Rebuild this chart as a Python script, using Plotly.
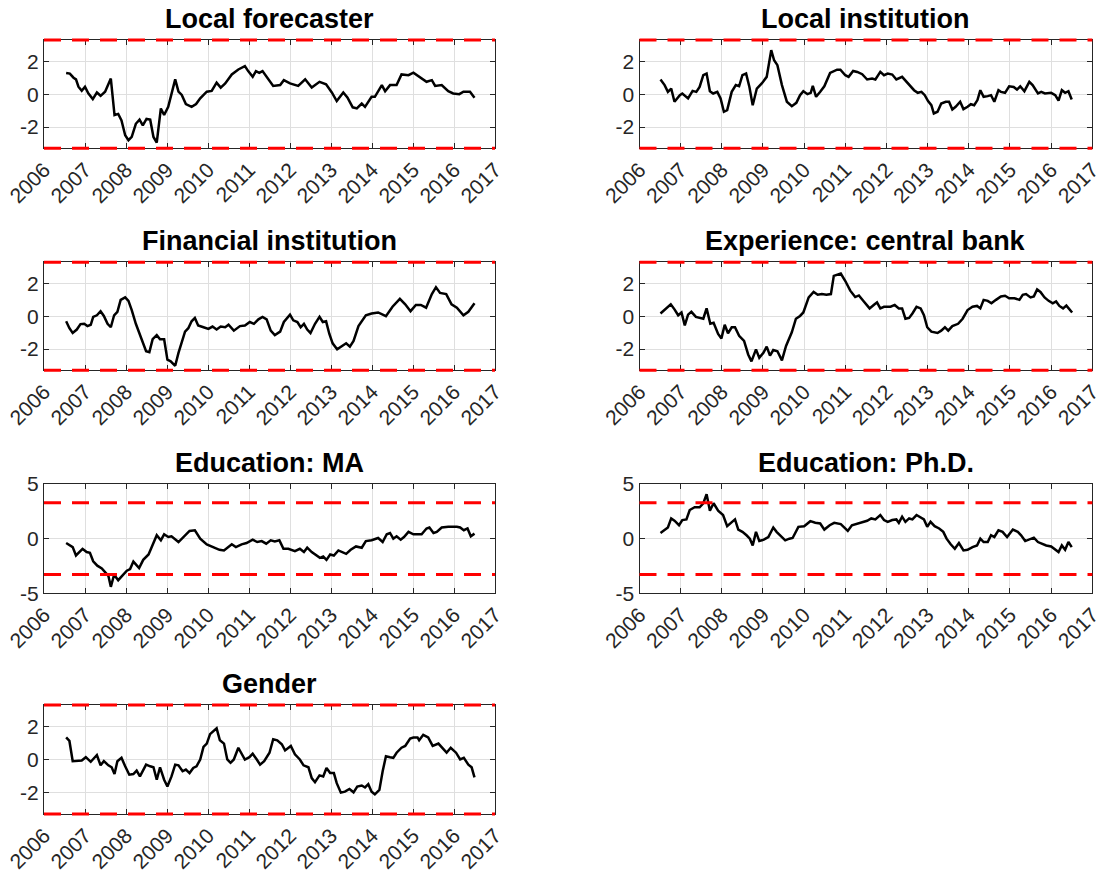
import plotly.graph_objects as go

# ---------------- data ----------------
BASE_YEAR = 2006
titles = ["Local forecaster", "Local institution", "Financial institution",
          "Experience: central bank", "Education: MA", "Education: Ph.D.", "Gender"]
year_ticks = list(range(2006, 2018))
year_labels = [str(y) for y in year_ticks]
critical_value = 3.29

# time in years since Jan 2006
lf_t = [0.54, 0.63, 0.72, 0.78, 0.84, 0.92, 1.00, 1.08, 1.19, 1.29,
        1.38, 1.49, 1.63, 1.72, 1.81, 1.89, 1.98, 2.06, 2.14, 2.24,
        2.33, 2.41, 2.50, 2.59, 2.67, 2.75, 2.85, 2.93, 3.03, 3.20,
        3.28, 3.36, 3.46, 3.60, 3.71, 3.81, 3.97, 4.09, 4.21, 4.31,
        4.42, 4.58, 4.74, 4.90, 4.98, 5.09, 5.17, 5.25, 5.33, 5.43,
        5.59, 5.76, 5.85, 6.00, 6.20, 6.37, 6.53, 6.72, 6.88, 7.02,
        7.14, 7.30, 7.40, 7.53, 7.63, 7.75, 7.83, 7.99, 8.07, 8.24,
        8.32, 8.44, 8.60, 8.72, 8.89, 9.01, 9.17, 9.33, 9.46, 9.54,
        9.70, 9.86, 9.98, 10.13, 10.23, 10.39, 10.50]
lf_v = [1.29, 1.25, 1.0, 0.9, 0.45, 0.2, 0.45, 0.05, -0.3, 0.1,
        -0.1, 0.15, 0.95, -1.27, -1.2, -1.6, -2.5, -2.8, -2.6, -1.8,
        -1.55, -1.9, -1.5, -1.55, -2.6, -2.95, -0.87, -1.27, -0.77, 0.9,
        0.15, -0.05, -0.6, -0.77, -0.6, -0.25, 0.15, 0.2, 0.7, 0.4,
        0.65, 1.2, 1.5, 1.7, 1.4, 1.05, 1.4, 1.3, 1.4, 1.05,
        0.5, 0.55, 0.85, 0.65, 0.5, 0.9, 0.4, 0.75, 0.6, 0.1,
        -0.42, 0.1, -0.2, -0.8, -0.87, -0.57, -0.77, -0.16, -0.16, 0.55,
        0.18, 0.55, 0.55, 1.2, 1.15, 1.3, 1.0, 0.75, 0.85, 0.5,
        0.55, 0.18, 0.04, 0.0, 0.15, 0.15, -0.22]

li_t = [0.51, 0.61, 0.69, 0.77, 0.85, 0.98, 1.04, 1.18, 1.29, 1.38,
        1.46, 1.55, 1.63, 1.71, 1.79, 1.89, 1.97, 2.05, 2.13, 2.24,
        2.34, 2.42, 2.50, 2.59, 2.67, 2.75, 2.85, 2.97, 3.09, 3.20,
        3.27, 3.35, 3.46, 3.58, 3.70, 3.81, 3.90, 3.98, 4.08, 4.16,
        4.21, 4.29, 4.39, 4.49, 4.63, 4.80, 4.88, 5.00, 5.08, 5.19,
        5.29, 5.41, 5.53, 5.65, 5.73, 5.85, 5.94, 6.03, 6.14, 6.24,
        6.38, 6.49, 6.59, 6.67, 6.76, 6.85, 6.93, 7.01, 7.09, 7.15,
        7.24, 7.33, 7.44, 7.52, 7.60, 7.68, 7.79, 7.87, 7.97, 8.05,
        8.13, 8.21, 8.28, 8.36, 8.46, 8.54, 8.62, 8.72, 8.78, 8.88,
        8.98, 9.09, 9.17, 9.25, 9.35, 9.47, 9.55, 9.68, 9.76, 9.85,
        10.00, 10.10, 10.18, 10.26, 10.34, 10.42, 10.50]
li_v = [0.89, 0.55, 0.14, 0.34, -0.46, -0.06, 0.04, -0.26, 0.2, 0.14,
        0.44, 1.15, 1.25, 0.18, 0.04, 0.14, -0.26, -1.07, -0.97, 0.14,
        0.55, 0.48, 1.15, 1.25, 0.44, -0.67, 0.34, 0.65, 1.05, 2.67,
        2.06, 1.76, 0.55, -0.46, -0.73, -0.53, -0.06, 0.18, 0.0, 0.08,
        0.5, -0.16, 0.14, 0.48, 1.29, 1.49, 1.49, 1.15, 1.05, 1.41,
        1.35, 1.21, 0.89, 0.95, 0.89, 1.35, 1.15, 1.25, 1.19, 0.89,
        1.05, 0.75, 0.44, 0.24, 0.08, 0.14, -0.06, -0.42, -0.67, -1.17,
        -1.07, -0.57, -0.46, -0.46, -0.93, -0.77, -0.46, -0.91, -0.77, -0.61,
        -0.67, -0.36, 0.24, -0.16, -0.12, -0.06, -0.46, 0.24, 0.14, 0.08,
        0.48, 0.44, 0.28, 0.48, 0.18, 0.75, 0.55, 0.04, 0.14, 0.04,
        0.08, -0.06, -0.40, 0.24, 0.08, 0.18, -0.32]

fi_t = [0.54, 0.62, 0.70, 0.80, 0.89, 0.98, 1.06, 1.14, 1.20, 1.29,
        1.38, 1.46, 1.55, 1.63, 1.71, 1.79, 1.87, 1.98, 2.06, 2.14,
        2.24, 2.38, 2.49, 2.57, 2.65, 2.75, 2.83, 2.93, 3.01, 3.09,
        3.20, 3.28, 3.36, 3.44, 3.52, 3.60, 3.68, 3.76, 3.89, 4.01,
        4.11, 4.21, 4.31, 4.42, 4.50, 4.63, 4.78, 4.90, 5.02, 5.12,
        5.23, 5.33, 5.43, 5.53, 5.63, 5.76, 5.85, 6.00, 6.08, 6.18,
        6.26, 6.34, 6.42, 6.50, 6.61, 6.72, 6.80, 6.88, 6.96, 7.04,
        7.15, 7.26, 7.37, 7.46, 7.55, 7.67, 7.85, 7.99, 8.15, 8.34,
        8.50, 8.68, 8.81, 8.94, 9.07, 9.19, 9.32, 9.46, 9.56, 9.66,
        9.81, 9.94, 10.07, 10.23, 10.35, 10.50]
fi_v = [-0.31, -0.73, -1.02, -0.81, -0.48, -0.46, -0.6, -0.52, -0.04, 0.06,
        0.31, 0.02, -0.46, -0.67, 0.06, 0.27, 1.0, 1.15, 0.94, 0.38,
        -0.46, -1.35, -2.13, -2.19, -1.40, -1.15, -1.40, -1.40, -2.65, -2.75,
        -3.02, -2.23, -1.65, -0.94, -0.73, -0.31, -0.10, -0.56, -0.67, -0.77,
        -0.63, -0.81, -0.63, -0.67, -0.52, -0.88, -0.6, -0.56, -0.35, -0.46,
        -0.19, -0.04, -0.19, -0.88, -1.15, -0.94, -0.35, 0.10, -0.25, -0.35,
        -0.67, -0.46, -0.81, -1.02, -0.46, -0.04, -0.35, -0.31, -1.08, -1.65,
        -2.02, -1.85, -1.65, -1.85, -1.5, -0.6, 0.06, 0.17, 0.23, 0.0,
        0.58, 1.06, 0.73, 0.31, 0.69, 0.69, 0.52, 1.35, 1.77, 1.42,
        1.35, 0.73, 0.52, 0.06, 0.27, 0.79]

ecb_t = [0.51, 0.65, 0.76, 0.85, 0.94, 1.02, 1.10, 1.18, 1.26, 1.37,
         1.46, 1.55, 1.63, 1.72, 1.80, 1.91, 1.99, 2.07, 2.15, 2.24,
         2.32, 2.42, 2.54, 2.64, 2.72, 2.83, 2.91, 3.01, 3.09, 3.17,
         3.25, 3.35, 3.46, 3.56, 3.70, 3.80, 3.90, 3.98, 4.11, 4.23,
         4.33, 4.43, 4.54, 4.65, 4.72, 4.81, 4.89, 5.00, 5.12, 5.24,
         5.33, 5.45, 5.59, 5.69, 5.77, 5.85, 5.94, 6.10, 6.20, 6.30,
         6.38, 6.46, 6.55, 6.63, 6.73, 6.83, 6.91, 6.99, 7.09, 7.24,
         7.33, 7.42, 7.50, 7.60, 7.74, 7.85, 7.97, 8.09, 8.20, 8.28,
         8.36, 8.46, 8.55, 8.66, 8.78, 8.88, 8.98, 9.11, 9.23, 9.31,
         9.39, 9.50, 9.58, 9.66, 9.74, 9.84, 9.94, 10.04, 10.12, 10.20,
         10.29, 10.37, 10.45, 10.51]
ecb_v = [0.17, 0.48, 0.73, 0.42, 0.06, 0.23, -0.56, 0.10, 0.27, -0.04,
         -0.10, -0.15, 0.48, -0.46, -0.40, -1.08, -1.35, -0.52, -1.04, -0.67,
         -0.67, -1.19, -1.5, -2.33, -2.75, -2.02, -2.54, -2.23, -1.85, -2.40,
         -2.06, -2.13, -2.69, -1.81, -0.98, -0.15, 0.02, 0.23, 1.15, 1.48,
         1.31, 1.35, 1.31, 1.35, 2.46, 2.52, 2.60, 2.15, 1.56, 1.17,
         1.27, 0.9, 0.48, 0.69, 0.85, 0.48, 0.58, 0.58, 0.69, 0.48,
         0.48, -0.15, -0.10, 0.17, 0.58, 0.48, 0.06, -0.67, -0.94, -1.02,
         -0.88, -0.67, -0.88, -0.60, -0.46, -0.15, 0.38, 0.58, 0.63, 0.48,
         1.0, 0.94, 0.79, 1.0, 1.21, 1.25, 1.10, 1.10, 1.0, 1.31,
         1.35, 1.15, 1.21, 1.63, 1.48, 1.15, 0.94, 0.79, 0.90, 0.63,
         0.48, 0.65, 0.38, 0.23]

ma_t = [0.54, 0.63, 0.70, 0.78, 0.86, 0.94, 1.04, 1.12, 1.20, 1.30,
        1.41, 1.49, 1.57, 1.63, 1.71, 1.81, 1.92, 2.02, 2.10, 2.18,
        2.32, 2.42, 2.55, 2.63, 2.75, 2.85, 2.93, 3.03, 3.11, 3.28,
        3.44, 3.55, 3.68, 3.81, 3.97, 4.13, 4.28, 4.39, 4.47, 4.58,
        4.68, 4.82, 4.94, 5.09, 5.20, 5.31, 5.42, 5.53, 5.63, 5.74,
        5.84, 5.96, 6.12, 6.24, 6.34, 6.42, 6.53, 6.65, 6.73, 6.81,
        6.89, 6.98, 7.07, 7.18, 7.29, 7.37, 7.48, 7.61, 7.75, 7.85,
        7.99, 8.15, 8.26, 8.36, 8.44, 8.52, 8.60, 8.70, 8.78, 8.89,
        9.01, 9.21, 9.33, 9.40, 9.50, 9.58, 9.70, 9.86, 10.07, 10.15,
        10.24, 10.33, 10.41, 10.50]
ma_v = [-0.40, -0.62, -0.77, -1.54, -1.23, -0.93, -1.23, -1.30, -2.07, -2.47,
        -2.72, -3.09, -3.40, -4.41, -3.30, -3.80, -3.30, -2.93, -2.78, -2.10,
        -2.69, -1.94, -1.45, -0.77, 0.31, -0.15, 0.40, 0.15, 0.22, -0.31,
        0.31, 0.71, 0.77, 0.0, -0.52, -0.77, -1.02, -1.08, -0.83, -0.52,
        -0.77, -0.52, -0.40, -0.09, -0.31, -0.22, -0.46, -0.15, -0.25, -0.15,
        -0.93, -0.93, -1.14, -0.93, -1.23, -0.83, -1.23, -1.54, -1.76, -1.64,
        -1.94, -1.45, -1.54, -1.08, -1.23, -1.39, -1.02, -0.71, -0.83, -0.22,
        -0.15, 0.06, -0.31, 0.40, 0.52, 0.0, 0.22, -0.09, 0.15, 0.62,
        0.40, 0.40, 0.93, 1.02, 0.52, 0.62, 1.02, 1.08, 1.08, 1.02,
        0.77, 0.93, 0.22, 0.46]

phd_t = [0.51, 0.61, 0.69, 0.77, 0.85, 0.96, 1.04, 1.14, 1.22, 1.34,
         1.46, 1.55, 1.63, 1.71, 1.80, 1.91, 2.03, 2.13, 2.24, 2.32,
         2.40, 2.50, 2.60, 2.68, 2.75, 2.83, 2.91, 3.02, 3.13, 3.25,
         3.33, 3.46, 3.54, 3.64, 3.72, 3.86, 4.00, 4.15, 4.27, 4.39,
         4.49, 4.62, 4.73, 4.89, 5.06, 5.16, 5.29, 5.41, 5.53, 5.63,
         5.73, 5.85, 5.94, 6.03, 6.14, 6.24, 6.30, 6.38, 6.46, 6.55,
         6.63, 6.73, 6.83, 6.91, 6.99, 7.07, 7.17, 7.28, 7.38, 7.46,
         7.56, 7.66, 7.76, 7.87, 7.97, 8.09, 8.20, 8.28, 8.36, 8.46,
         8.54, 8.62, 8.72, 8.82, 8.93, 9.07, 9.19, 9.27, 9.37, 9.47,
         9.58, 9.68, 9.77, 9.88, 10.00, 10.08, 10.18, 10.26, 10.34, 10.42,
         10.50]
phd_v = [0.52, 0.83, 1.02, 1.85, 1.64, 1.23, 1.70, 1.76, 2.62, 2.87,
         2.87, 3.24, 4.07, 2.56, 3.24, 2.56, 2.16, 1.14, 1.54, 1.76,
         0.83, 0.62, 0.31, 0.0, -0.62, 0.62, -0.22, -0.09, 0.15, 1.02,
         0.62, 0.15, -0.15, 0.0, 0.06, 1.08, 1.14, 1.60, 1.45, 1.39,
         0.83, 1.23, 1.45, 1.33, 0.71, 1.23, 1.39, 1.54, 1.64, 1.85,
         1.76, 2.16, 1.70, 1.54, 1.70, 1.76, 1.45, 2.01, 1.54, 1.85,
         1.76, 2.16, 1.94, 1.76, 1.08, 1.54, 1.14, 0.93, 0.62, 0.0,
         -0.52, -0.93, -0.40, -1.08, -1.02, -0.77, -0.62, 0.0, -0.31, -0.31,
         0.31, 0.15, 0.77, 0.62, 0.15, 0.83, 0.62, 0.31, -0.22, -0.09,
         0.09, -0.31, -0.46, -0.62, -0.71, -0.93, -1.23, -0.62, -1.02, -0.31,
         -0.77]

gen_t = [0.54, 0.62, 0.70, 0.84, 0.92, 1.02, 1.14, 1.29, 1.38, 1.46,
         1.57, 1.65, 1.72, 1.79, 1.89, 1.98, 2.08, 2.18, 2.26, 2.34,
         2.49, 2.59, 2.67, 2.75, 2.83, 2.93, 3.01, 3.11, 3.20, 3.28,
         3.38, 3.46, 3.55, 3.64, 3.72, 3.81, 3.89, 3.97, 4.05, 4.21,
         4.29, 4.39, 4.47, 4.55, 4.63, 4.74, 4.82, 4.90, 5.01, 5.09,
         5.19, 5.27, 5.37, 5.50, 5.59, 5.69, 5.80, 5.88, 6.02, 6.12,
         6.24, 6.33, 6.45, 6.53, 6.61, 6.72, 6.81, 6.89, 6.98, 7.07,
         7.14, 7.24, 7.34, 7.45, 7.55, 7.64, 7.75, 7.83, 7.91, 7.99,
         8.07, 8.18, 8.26, 8.34, 8.44, 8.52, 8.60, 8.72, 8.81, 8.93,
         9.01, 9.11, 9.15, 9.25, 9.37, 9.48, 9.62, 9.72, 9.82, 9.92,
         10.05, 10.15, 10.24, 10.35, 10.43, 10.50]
gen_v = [1.33, 1.12, -0.10, -0.10, -0.06, 0.14, -0.14, 0.27, -0.35, -0.10,
         -0.35, -0.47, -0.88, -0.10, 0.10, -0.41, -0.92, -0.88, -0.67, -1.02,
         -0.31, -0.41, -0.47, -1.22, -0.47, -1.22, -1.63, -1.02, -0.31, -0.35,
         -0.71, -0.61, -0.82, -0.51, -0.41, 0.0, 0.76, 0.96, 1.53, 1.88,
         1.16, 0.96, 0.0, -0.20, 0.0, 0.71, 0.35, 0.0, 0.14, 0.35,
         0.0, -0.31, -0.10, 0.41, 1.22, 1.16, 0.92, 0.55, 0.82, 0.31,
         0.0, -0.35, -0.47, -1.12, -1.37, -0.96, -1.02, -0.51, -0.82, -0.82,
         -1.43, -2.0, -1.94, -1.78, -1.98, -1.63, -1.57, -1.69, -1.49, -1.94,
         -2.10, -1.84, -0.71, 0.20, 0.14, 0.10, 0.41, 0.71, 0.82, 1.27,
         1.33, 1.33, 1.16, 1.49, 1.33, 0.82, 0.96, 0.71, 0.41, 0.71,
         0.41, 0.0, 0.10, -0.31, -0.47, -1.08]

series_t = [lf_t, li_t, fi_t, ecb_t, ma_t, phd_t, gen_t]
series_v = [lf_v, li_v, fi_v, ecb_v, ma_v, phd_v, gen_v]
y_limits = [3.29, 3.29, 3.29, 3.29, 5, 5, 3.29]
y_ticks = [[-2, 0, 2], [-2, 0, 2], [-2, 0, 2], [-2, 0, 2],
           [-5, 0, 5], [-5, 0, 5], [-2, 0, 2]]

# ---------------- layout ----------------
W, H = 1109, 882
col_px = [(44, 495), (639.5, 1092.3)]
row_px = [(40, 148.3), (262.3, 370.2), (484, 593.3), (705, 814)]

AX = "#262626"
GRID = "#dfdfdf"
FONT = "Liberation Sans"

fig = go.Figure()
layout = dict(
    width=W, height=H,
    margin=dict(l=0, r=0, t=0, b=0, autoexpand=False),
    paper_bgcolor="white", plot_bgcolor="white",
    showlegend=False,
    font=dict(family=FONT, color=AX),
)
shapes = []
annotations = []

for i, (title, ts, vs) in enumerate(zip(titles, series_t, series_v)):
    assert len(ts) == len(vs), (title, len(ts), len(vs))
    n = i + 1
    r, c = divmod(i, 2)
    x0p, x1p = col_px[c]
    top, bot = row_px[r]
    xdom = [x0p / W, x1p / W]
    ydom = [1 - bot / H, 1 - top / H]
    xs = "x" if n == 1 else f"x{n}"
    ys = "y" if n == 1 else f"y{n}"
    xk = "xaxis" if n == 1 else f"xaxis{n}"
    yk = "yaxis" if n == 1 else f"yaxis{n}"

    fig.add_trace(go.Scatter(
        x=[BASE_YEAR + t for t in ts], y=vs, mode="lines",
        line=dict(color="black", width=2.5),
        xaxis=xs, yaxis=ys, hoverinfo="skip", showlegend=False,
    ))

    common = dict(
        automargin=False,
        showline=True, linecolor=AX, linewidth=1.2, mirror="allticks",
        ticks="inside", ticklen=5, tickwidth=1, tickcolor=AX,
        showgrid=True, gridcolor=GRID, gridwidth=1, zeroline=False,
        tickfont=dict(family=FONT, size=21, color=AX),
    )
    layout[xk] = dict(
        common, domain=xdom, anchor=ys, range=[year_ticks[0], year_ticks[-1]],
        tickmode="array", tickvals=year_ticks, ticktext=year_labels,
        tickangle=-45,
    )
    lim = y_limits[i]
    layout[yk] = dict(
        common, domain=ydom, anchor=xs, range=[-lim, lim],
        tickmode="array", tickvals=y_ticks[i],
        ticktext=[str(v) for v in y_ticks[i]],
    )

    # critical-value lines, positioned in the axis domain so they are not clipped
    for sgn in (1, -1):
        yfrac = (sgn * critical_value + lim) / (2 * lim)
        shapes.append(dict(
            type="line", xref=f"{xs} domain", x0=0, x1=1,
            yref=f"{ys} domain", y0=yfrac, y1=yfrac,
            line=dict(color="#ff0000", width=3, dash="17px,11px"),
            layer="above",
        ))

    annotations.append(dict(
        text=title, xref="paper", yref="paper",
        x=(xdom[0] + xdom[1]) / 2, y=ydom[1],
        xanchor="center", yanchor="bottom", yshift=4, showarrow=False,
        font=dict(family=FONT, size=27, color="black", weight="bold"),
    ))

layout["shapes"] = shapes
layout["annotations"] = annotations
fig.update_layout(**layout)

fig.write_html("out.html", config={"displayModeBar": False},
               post_script="document.body.style.margin='0';")
